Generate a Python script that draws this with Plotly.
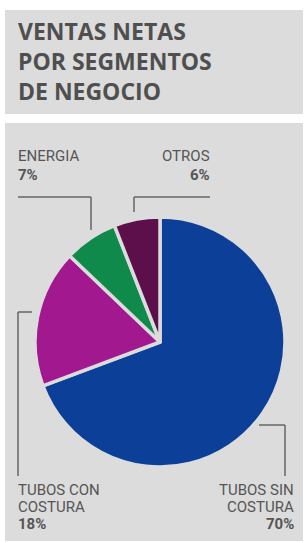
import plotly.graph_objects as go

W, H = 304, 543

segments = ["TUBOS SIN COSTURA", "TUBOS CON COSTURA", "ENERGIA", "OTROS"]
shares = [70, 18, 7, 6]
colors = ["#0B3F98", "#A1188F", "#0F8A4A", "#5C0F4B"]

title_lines = ["VENTAS NETAS", "POR SEGMENTOS", "DE NEGOCIO"]

def px(x):
    return x / W

def py(y):
    return 1 - y / H

fig = go.Figure()

fig.add_trace(go.Pie(
    labels=segments,
    values=shares,
    sort=False,
    direction="clockwise",
    rotation=0,
    textinfo="none",
    hoverinfo="label+percent",
    marker=dict(colors=colors, line=dict(color="#DCDCDC", width=3.5)),
    domain=dict(x=[px(35), px(285)], y=[py(467), py(217)]),
    showlegend=False,
))

shapes = []
shapes.append(dict(type="rect", xref="paper", yref="paper", x0=px(5), x1=px(303), y0=py(114), y1=py(10),
                   fillcolor="#DCDCDC", line=dict(width=0), layer="below"))
shapes.append(dict(type="rect", xref="paper", yref="paper", x0=px(5), x1=px(303), y0=py(541), y1=py(123),
                   fillcolor="#DCDCDC", line=dict(width=0), layer="below"))

lc = dict(color="#666666", width=1.5)
def seg(x0, y0, x1, y1):
    shapes.append(dict(type="line", xref="paper", yref="paper", x0=px(x0), y0=py(y0), x1=px(x1), y1=py(y1), line=lc))

seg(18, 197, 91, 197)
seg(91, 197, 91, 230)
seg(134, 197, 210, 197)
seg(134, 197, 134, 212)
seg(18, 312, 32, 312)
seg(18, 312, 18, 476)
seg(259, 425, 285, 425)
seg(285, 425, 285, 476)

annotations = []
tfont = dict(family="Open Sans, sans-serif", size=23, color="#4F4F4F")
annotations.append(dict(text="<br>".join("<b>" + t + "</b>" for t in title_lines), xref="paper", yref="paper",
                        x=px(16), y=py(61), xanchor="left", yanchor="middle", align="left",
                        showarrow=False, font=tfont))

lf = dict(family="Roboto, sans-serif", size=15, color="#555555")
def lab(text, x, y, anchor):
    annotations.append(dict(text=text, xref="paper", yref="paper", x=px(x), y=py(y), xanchor=anchor,
                            yanchor="middle", showarrow=False, font=lf, align=anchor))

lab("ENERGIA", 16, 156, "left")
lab("<b>7%</b>", 16, 175, "left")
lab("OTROS", 212, 156, "right")
lab("<b>6%</b>", 212, 175, "right")
lab("TUBOS CON", 16, 490, "left")
lab("COSTURA", 16, 507, "left")
lab("<b>18%</b>", 16, 524, "left")
lab("TUBOS SIN", 296, 490, "right")
lab("COSTURA", 296, 507, "right")
lab("<b>70%</b>", 296, 524, "right")

fig.update_layout(
    width=W, height=H,
    margin=dict(l=0, r=0, t=0, b=0),
    paper_bgcolor="white",
    plot_bgcolor="white",
    shapes=shapes,
    annotations=annotations,
)

fig.write_html("out.html", config={"displayModeBar": False},
               post_script="document.body.style.margin='0';document.body.style.overflow='hidden';")
